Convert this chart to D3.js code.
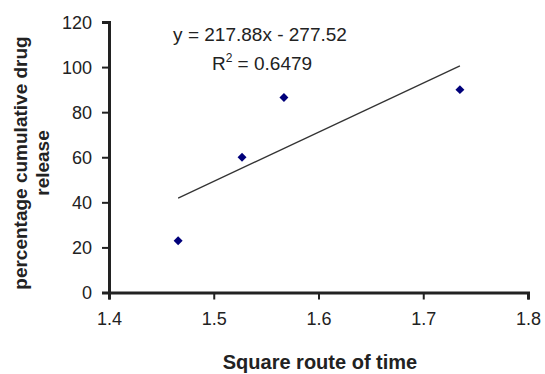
<!DOCTYPE html>
<html>
<head>
    <script src="https://d3js.org/d3.v7.min.js" charset="utf-8"></script>
    <style>
        body { margin: 0; background: #fff; }
        text { font-family: "Liberation Sans", Arial, sans-serif; fill: #222; }
    </style>
</head>
<body>
<script>
    // data
    const sqrtTime = [1.466, 1.527, 1.567, 1.735];
    const release = [23, 60, 86.5, 90];
    const xTicks = [1.4, 1.5, 1.6, 1.7, 1.8];
    const yTicks = [0, 20, 40, 60, 80, 100, 120];
    const slope = 217.88, intercept = -277.52;

    const svg = d3.select("body").append("svg")
        .attr("width", 545).attr("height", 374);

    const x = d3.scaleLinear().domain([1.4, 1.8]).range([109, 528]);
    const y = d3.scaleLinear().domain([0, 120]).range([292.5, 22]);

    // axes
    const xAxis = svg.append("g")
        .attr("transform", `translate(0,${y(0)})`)
        .call(d3.axisBottom(x).tickValues(xTicks).tickSize(7).tickPadding(13).tickFormat(d3.format(".1f")));
    const yAxis = svg.append("g")
        .attr("transform", `translate(${x(1.4)},0)`)
        .call(d3.axisLeft(y).tickValues(yTicks).tickSize(7).tickPadding(10));

    [xAxis, yAxis].forEach(g => {
        g.select(".domain").attr("stroke", "#222").attr("stroke-width", 3);
        g.selectAll(".tick line").attr("stroke", "#222").attr("stroke-width", 2);
        g.selectAll(".tick text").style("font-size", "18px").attr("fill", "#222");
    });
    yAxis.selectAll(".tick text").attr("dy", "0.36em");

    // trend line
    const x0 = d3.min(sqrtTime), x1 = d3.max(sqrtTime);
    svg.append("line")
        .attr("x1", x(x0)).attr("y1", y(slope * x0 + intercept))
        .attr("x2", x(x1)).attr("y2", y(slope * x1 + intercept))
        .attr("stroke", "#333").attr("stroke-width", 1.3);

    // points (diamonds = rotated squares)
    svg.selectAll("path.pt")
        .data(sqrtTime)
        .enter()
        .append("path")
        .attr("class", "pt")
        .attr("d", d3.symbol().type(d3.symbolSquare).size(40))
        .attr("transform", (d, i) => `translate(${x(d)},${y(release[i])}) rotate(45)`)
        .attr("fill", "#00007a");

    // equation
    svg.append("text")
        .attr("x", 260).attr("y", 41)
        .attr("text-anchor", "middle")
        .style("font-size", "19px")
        .text("y = 217.88x - 277.52");
    const r2 = svg.append("text")
        .attr("x", 262).attr("y", 70)
        .attr("text-anchor", "middle")
        .style("font-size", "19px");
    r2.append("tspan").text("R");
    r2.append("tspan").attr("dy", -8).style("font-size", "12px").text("2");
    r2.append("tspan").attr("dy", 8).text(" = 0.6479");

    // axis titles
    svg.append("text")
        .attr("x", 320).attr("y", 369)
        .attr("text-anchor", "middle")
        .style("font-size", "20px").style("font-weight", "bold")
        .text("Square route of time");

    const yt = svg.append("text")
        .attr("transform", "translate(27,163) rotate(-90)")
        .attr("text-anchor", "middle")
        .style("font-size", "19px").style("font-weight", "bold");
    yt.append("tspan").attr("x", 0).attr("y", 0).text("percentage cumulative drug");
    yt.append("tspan").attr("x", 0).attr("y", 22).text("release");
</script>
</body>
</html>
